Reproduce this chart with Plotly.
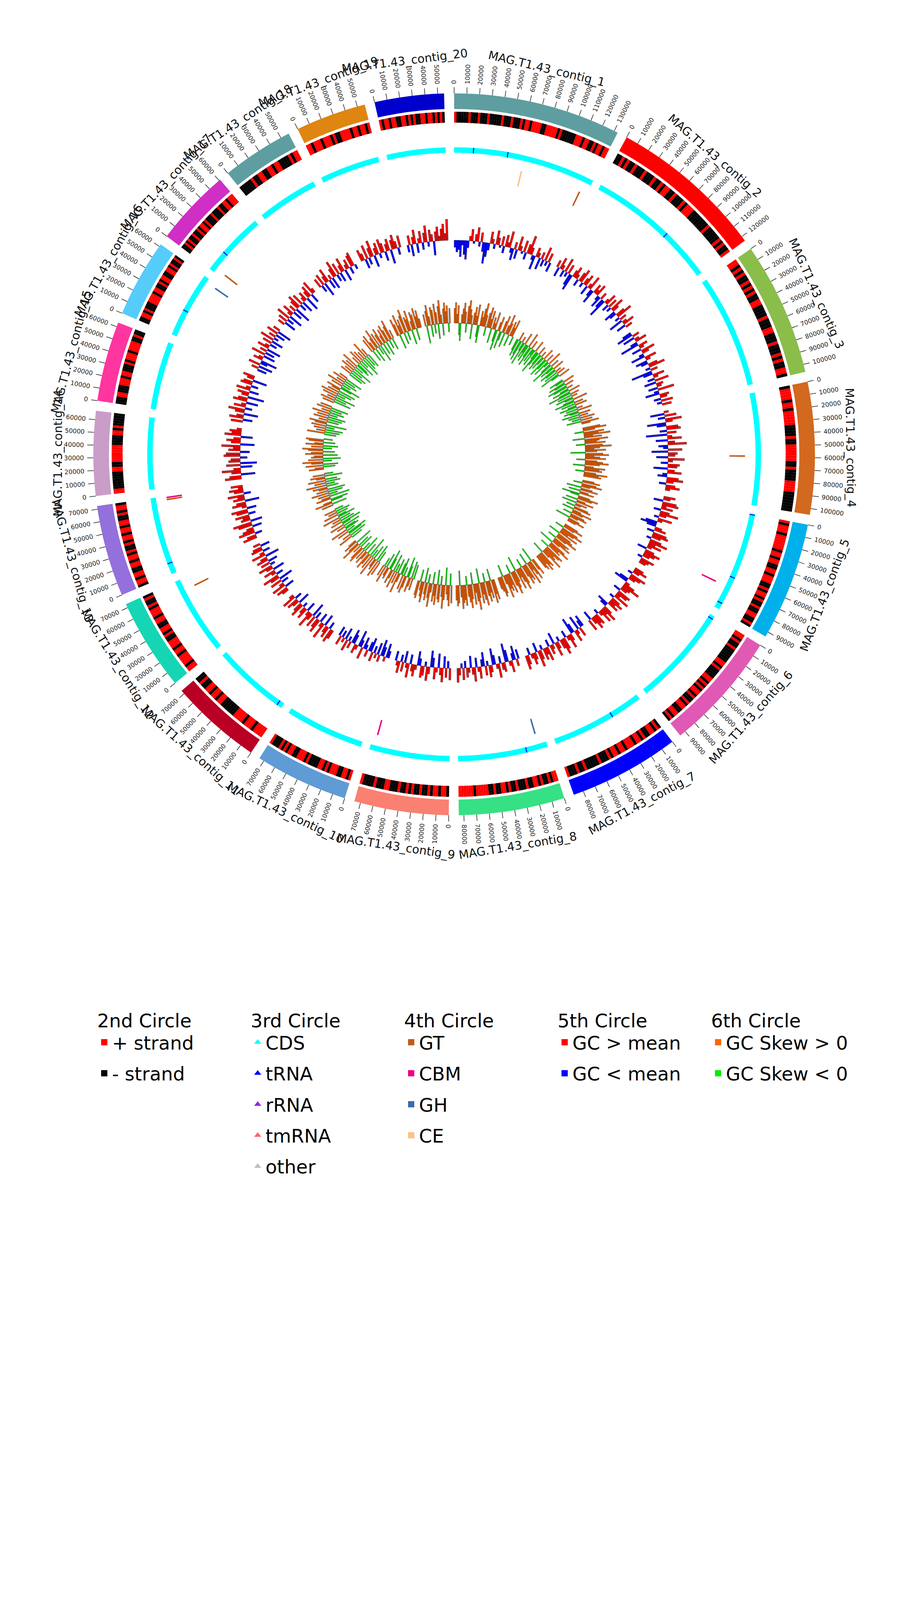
import math
import plotly.graph_objects as go

# ---- contigs (outer circle) ----
contig_names = [f"MAG.T1.43_contig_{i}" for i in range(1, 21)]
contig_lengths = [133000, 124000, 106000, 105000, 94000, 95000, 88000, 84000, 75000, 74000,
                  73000, 73000, 72500, 67000, 63500, 62000, 61000, 57000, 56000, 55000]
contig_colors = ["#5F9EA0", "#FF0000", "#8ABD4A", "#D2691E", "#00B0EB", "#E05AB5", "#0000FF",
                 "#36E085", "#FA8072", "#5F9BD5", "#B90024", "#15D5B5", "#9370DB", "#C99DC8",
                 "#FF35A0", "#55CCFA", "#CF2FC4", "#5F9EA0", "#DF8512", "#0000CC"]

# ---- 2nd circle: gene strand along each contig (R = +, K = -) ----
strand = [
    "RKKKKKRKKKRKKKRKKKKKRKKKRKKKRKRRKRRRRKKRRRRRKRKKKKKKRRRKRRKKRKRRKRR",
    "KKRKRKKRKKKRKKKRKKRKRRKKRKKKRKRRRKKKKKKKRKKKKKRKRKKR",
    "RRKRKRKKRKRKRKKRRKKKKRKKKRRKKKRKKKRKRKKRRK",
    "KRRRRKRRKRRRRRKKKKRKKRRRRRRKKRKKKKRRRRKKKKKKK",
    "RKRRRKRRRRRRKRRKRRKKRRKRRRKKRKRRKRKKRKKRRKKRK",
    "RRKRKKRKKKKKKRRKRKKKKRRKRKRKRRKRKKRKRRKKRRKRK",
    "KRKRRKKRKRRKRRRKRRKRRKRKKKRKKKKKRKKRKKKR",
    "RRKRKKRKRRKKRKKKRKKRKRRKKRKKRRRRRKRRRRRR",
    "KRRKRRKRKKRKKRKRKKRKKKRRKKKRKKKKR",
    "RKRRKKRRRKRKRRKKKKRKRRRKKRRKRKRKKKR",
    "RRRRKRRRKRRRRKKKKKKRRKRRKRRKKRKK",
    "RRKRRRRKRRKRRRKKRKRRKKRRKRRRKRKKRK",
    "KRRKRRKKRRKRRKRKKRKRRKRRKRRKKRKRRK",
    "RRKKKKKKKRRKKRRRRRRRKKKKRRKRKKKKK",
    "KKKRRKKKRRRKRRKKKRKRRRKRRRRKKRKK",
    "KKRRKRKKKRRRRKRRKKRKRRKKRRKRKKRK",
    "KKRKRKKRKKRKRRKRKKKRKKKRKKRRKRRR",
    "KKKKKRKKRRKKRRKRRKKKKRKRR",
    "RRKRRRKRRRKRKKRRRRKRRKRRKR",
    "RKRRKRRKKRRKRKRKKRRKRRKRKRK",
]

# ---- 3rd circle: tRNA positions (contig number, kb) on top of the CDS band ----
trna_contig = [1, 1, 2, 5, 5, 5, 6, 7, 8, 11, 13, 16, 17]
trna_kb = [18, 50, 76, 1, 62, 88, 3, 30, 20, 5, 10, 25, 20]

# ---- 4th circle: CAZy genes ----
cazy_types = ["GT", "CBM", "GH", "CE"]
cazy_colors = ["#BF5B17", "#F0027F", "#386CB0", "#FDC086"]
cazy_contig = [1, 1, 4, 5, 8, 9, 12, 13, 13, 16, 17]
cazy_kb = [66, 126, 59, 72, 8, 71, 62, 69, 71, 58, 4]
cazy_type = ["CE", "GT", "GT", "CBM", "GH", "CBM", "GT", "GT", "CBM", "GH", "GT"]

# ---- 5th circle: GC content minus mean (%), one value per window ----
gc_dev = [
    [-3, -5, -4, -7, -2, -6, -8, -3, 2, 5, -1, 3, 6, -2, 4, -4, -9, -6, -3, 5, 2, -2, 6, 3, -1, 4, -3, 5, 2, 7, -2, -5, 3, -4, 6, 2, -1, 5, -3, 4, 8, 3, -2, -6, 4, 2, -5, 3, -3, 6, -2, 4, -4],
    [3, -4, 5, 2, -3, 6, -2, 4, -5, -7, 3, 5, 2, -3, 4, 6, -2, 3, 5, -4, 2, 6, -3, -6, 4, 2, 5, -2, -5, 3, -4, -8, 2, 5, -3, 4, -2, 6, 3, -5, -3, 4, 7, -2, 3, -6, 2, 5, -4, 3],
    [-4, -7, 3, -5, 2, 5, -3, -8, 4, 2, -4, 6, 3, -2, -6, 5, 2, -5, -3, 4, 7, -2, 3, -9, -4, 5, 2, -3, 6, -5, 3, 2, -4, 7, -2, -6, 4, 3, -3, 5, -2, 4],
    [2, -6, 5, -3, 7, 3, -8, -4, 5, 6, -3, 4, -9, 2, 6, -5, 3, 8, -4, -2, 6, -7, 4, 3, -5, 7, 2, -3, 5, 4, -6, 3, 6, -2, -4, 5, 7, 3, -3, 4, 6, 2],
    [5, 3, -4, 6, 7, 2, 5, -3, 4, 8, 3, -2, 6, 2, -5, -7, -4, 3, 5, -3, 6, 7, 4, -2, 5, 8, 3, 6, 2, -4, 4, 7, 5, 3, -2, 6, 4, 3],
    [4, 6, 3, -2, 7, 5, 3, -4, -6, 2, 5, 8, 4, 3, -3, 6, 5, 2, 7, -2, 4, 6, 3, 5, -5, -3, 4, 7, 3, 6, 2, -2, 5, 4, 6, 3, -4, 5],
    [-5, -3, 4, -6, 2, 5, -4, -7, 3, 6, 2, -3, 5, 7, 4, -2, 3, 6, -5, 2, 4, -3, 6, 3, 5, -2, 4, 7, -4, 3, 5, 2, -3, 4, 6],
    [-4, 3, -6, -3, 5, 2, -5, -8, 4, 3, -3, 6, 2, -4, -7, 3, 5, -2, 4, -6, -3, 5, 2, -4, 6, 3, -5, 2, 4, -3, 5, -2, 3, 6],
    [5, -3, 4, -5, 6, 3, -6, 2, 5, -4, -7, 3, 6, -2, 4, 5, -3, -6, 2, 5, 3, -4, 6, 2, -5, 4, -3, 5, 2, -4],
    [-3, -6, 2, -4, -7, 3, -5, 2, -3, 4, -6, -4, 3, -2, -5, 5, -3, -7, 2, 4, -4, -6, 3, -2, 5, -5, 2, -3, 4, -4],
    [4, 6, -3, 5, 3, -5, 7, 2, -4, 6, 4, -3, 5, -6, 3, 7, 2, -4, 5, 3, -2, 6, 4, -5, 3, 5, -3, 6, 2],
    [3, 5, -4, 6, 2, -3, 5, -6, 4, 7, -3, 2, 5, -5, 3, 6, -2, 4, -4, 5, 3, -6, 6, 2, -3, 5, 4, -4, 3],
    [6, 4, -3, 7, 5, 3, -4, 6, 8, -5, 4, 3, 6, -3, 5, 7, -4, 2, 6, 4, -6, 5, 3, 7, -3, 4, 6, 2, 5],
    [7, 5, -6, 4, 8, 3, -5, 6, -7, 5, 4, -3, 7, 6, -4, 5, 3, 8, -6, 4, 6, 3, -5, 7, 4, 5, 2],
    [5, -4, 6, 3, -6, 4, 7, -3, 5, 2, -5, 6, 4, -7, 3, 5, -4, 6, 2, -3, 5, 4, -6, 3, 5],
    [-4, 3, -6, 5, -3, -7, 4, 2, -5, 6, -4, 3, -6, 5, 2, -3, 4, -5, 6, -2, 3, -4, 5, -6, 3],
    [3, -5, 4, -3, 6, -6, 2, 5, -4, 3, -7, 4, 6, -3, 5, -5, 2, 4, -6, 3, 5, -4, 6, 2],
    [4, -3, 5, -6, 3, 6, -4, 2, -5, 4, 7, -3, 5, -4, 3, 6, -5, 2, 4, -3, 5, 6, -2],
    [5, 3, -4, 6, -3, 4, 7, -5, 3, 5, -2, 6, 4, -4, 3, 5, -6, 4, 6, 3, -3, 5],
    [-3, 4, -5, 3, 6, -4, 2, 5, -3, 4, 7, -2, 5, 3, -6, 4, 6, 2, 5, 7, 3, 9],
]

# ---- 6th circle: GC skew x100, one value per window ----
gc_skew = [
    [5, 7, 3, 6, -4, -6, 3, 5, 7, 4, -3, 6, 8, 5, 3, -5, 4, 6, 3, 7, -4, -6, 5, 3, 6, 8, 4, -3, 5, 7, 3, 6, -5, 4, 2, 6, -4, -7, 3, 5, -6, -3, 4, 6, -5, 3, 7, 4, -4, 5, 3, 6, -3],
    [-4, -6, 3, -5, -7, 2, -3, -8, 4, -5, -3, -6, 5, -4, -7, 3, -5, -2, -6, 4, -3, -8, -5, 3, -4, -6, 2, -5, -3, 4, -7, -4, 3, -6, -2, 5, -4, -8, 3, -5, -3, 4, -6, -4, 2, -5, 3, -7, -3, 4],
    [-5, -3, 4, -6, -4, 3, -7, -5, 2, -3, -6, 4, -4, -8, 3, -5, 2, -6, -3, 5, -4, -7, 3, -5, 4, -3, -6, 2, -4, 5, -5, -3, 4, -6, 3, -4, 5, -3, 4, -5, 6, 3],
    [6, 8, 4, -3, 7, 5, 9, 3, 6, -4, 8, 5, 4, 7, -3, 6, 9, 5, 3, 7, 4, -5, 6, 8, 3, 5, 7, -3, 4, 6, 8, 5, -4, 3, 7, 5, 6, -3, 4, 8, 5, 6],
    [4, 6, -3, 5, 7, 3, -5, 4, 6, -4, 3, 5, -6, -3, 4, 7, 5, -4, 3, 6, -5, 4, 2, -3, 5, 6, -4, 3, 7, 4, -3, 5, 6, 3, -5, 4, 6, 3],
    [5, 7, 4, -3, 6, 8, 5, 3, 7, -4, 5, 6, 8, 4, -3, 6, 5, 7, 3, -5, 6, 8, 4, 5, -3, 7, 6, 4, 5, 8, 3, -4, 6, 5, 7, 4, 6, 5],
    [6, 4, -5, 7, 5, 3, 8, -4, 6, 5, 7, 4, -3, 6, 8, 5, 3, 7, -5, 4, 6, 8, 5, -3, 7, 4, 6, 5, 8, 3, -4, 6, 7, 5, 4],
    [7, 5, 8, -4, 6, 4, 7, 5, -3, 8, 6, 4, 7, -5, 5, 9, 6, 3, 7, -4, 5, 8, 6, 4, -3, 7, 5, 6, 8, 4, -5, 6, 7, 5],
    [6, -4, 7, 5, 3, -6, 5, 8, 4, -3, 6, 5, -5, 7, 4, 6, -4, 3, 8, 5, -3, 6, 4, -5, 7, 5, 3, -4, 6, 5],
    [-5, 4, -6, 3, 5, -4, -7, 4, 6, -3, 5, -6, -4, 3, 7, -5, 4, -3, 6, -6, 3, 5, -4, -7, 4, 3, -5, 6, -3, 4],
    [5, -4, 6, -6, 4, 3, -5, 7, -3, 5, -7, 4, 6, -4, 3, 5, -6, 4, -3, 6, 5, -5, 3, -4, 7, 4, -6, 5, 3],
    [-4, 5, -6, 3, -5, -7, 4, -3, 6, -5, -4, 3, -6, 5, -3, -7, 4, -5, 3, -4, 6, -6, -3, 5, -4, 3, -5, 4, -3],
    [4, -5, 6, 3, -4, -6, 5, 3, -7, 4, -3, 6, -5, 4, -6, 3, 5, -4, 7, -3, 4, -5, 6, -4, 3, 5, -6, 4, -3],
    [5, 3, -4, 6, -5, 4, 7, -3, 5, -6, 4, 3, -5, 6, 4, -4, 5, 7, -3, 4, -5, 6, 3, -4, 5, 6, -3],
    [-4, 6, -5, 3, -6, 4, -3, 5, -7, 4, 6, -4, 3, -5, 5, -6, 4, -3, 6, -5, 3, -4, 5, -6, 4],
    [4, -6, 5, -4, 3, -7, 5, -3, 6, -5, 4, -6, 3, 5, -4, -7, 4, -3, 6, -5, 3, -4, 5, -6, 3],
    [-5, 4, -6, 3, -4, 5, -7, 4, -3, 6, -5, -4, 3, -6, 5, -3, 4, -7, 3, -5, 6, -4, 3, -5],
    [5, -4, 6, 3, -5, 4, 7, -3, 5, -6, 4, 6, -4, 3, 5, -5, 6, 4, -3, 5, 7, -4, 3],
    [6, 4, -5, 7, 3, 5, -4, 6, 8, -3, 5, 4, 7, -5, 3, 6, 5, -4, 7, 4, 6, 3],
    [4, -6, 5, 7, 3, -4, 6, 5, -3, 7, 4, -5, 6, 8, 3, -4, 5, 7, 4, 6, -3, 5],
]

# ---- geometry (radius in px, polar radial axis = pixels) ----
CX = 1155
GAP = 1.6
R_MAX = 1155
R_CONTIG = (884, 924)
R_TICK = (924, 940)
R_STRAND = (849, 877)
R_CDS = (772, 786)
R_CAZY = (705, 745)
GC_BASE, GC_SCALE = 548, 6.0
SKEW_BASE, SKEW_SCALE = 336, 7.5
FONT = "DejaVu Sans"

dpb = (360 - GAP * len(contig_lengths)) / sum(contig_lengths)
starts = []
acc = 0.0
for L in contig_lengths:
    starts.append(acc)
    acc += L * dpb + GAP


def ang(ci, pos):
    return starts[ci] + pos * dpb


fig = go.Figure()

# outer contig ring
fig.add_trace(go.Barpolar(
    theta=[ang(i, L / 2) for i, L in enumerate(contig_lengths)],
    width=[L * dpb for L in contig_lengths],
    base=R_CONTIG[0], r=[R_CONTIG[1] - R_CONTIG[0]] * len(contig_lengths),
    marker=dict(color=contig_colors, line=dict(width=0)),
    showlegend=False, hoverinfo="skip",
))

# ticks every 10 kb
tick_r, tick_t = [], []
annotations = []
for i, L in enumerate(contig_lengths):
    for v in range(0, L + 1, 10000):
        t = ang(i, v)
        tick_r += [R_TICK[0], R_TICK[1], None]
        tick_t += [t, t, None]
        txt = str(v)
        rc = 948 + len(txt) * 10.2 / 2
        a = t - 90 if t < 180 else t - 270
        rad = math.radians(t)
        annotations.append(dict(
            x=(CX + rc * math.sin(rad)) / 2310, y=(3465 + rc * math.cos(rad)) / 4620,
            xref="paper", yref="paper", text=txt, showarrow=False, textangle=a,
            xanchor="center", yanchor="middle", font=dict(size=16, family=FONT, color="#222"),
        ))
    tm = ang(i, L / 2)
    a = tm if (tm <= 90 or tm >= 270) else tm - 180
    if a > 180:
        a -= 360
    rad = math.radians(tm)
    annotations.append(dict(
        x=(CX + 1015 * math.sin(rad)) / 2310, y=(3465 + 1015 * math.cos(rad)) / 4620,
        xref="paper", yref="paper", text=contig_names[i], showarrow=False, textangle=a,
        xanchor="center", yanchor="middle", font=dict(size=30, family=FONT, color="#111"),
    ))

fig.add_trace(go.Scatterpolar(
    r=tick_r, theta=tick_t, mode="lines", line=dict(color="#222", width=1.5),
    showlegend=False, hoverinfo="skip",
))

# 2nd circle: strand blocks
for code, color in [("R", "#FF0000"), ("K", "#000000")]:
    th, wd = [], []
    for i, s in enumerate(strand):
        b = contig_lengths[i] / len(s)
        for k, ch in enumerate(s):
            if ch == code:
                th.append(ang(i, (k + 0.5) * b))
                wd.append(b * dpb)
    fig.add_trace(go.Barpolar(
        theta=th, width=wd, base=R_STRAND[0], r=[R_STRAND[1] - R_STRAND[0]] * len(th),
        marker=dict(color=color, line=dict(width=0)), showlegend=False, hoverinfo="skip",
    ))

# 3rd circle: CDS band + tRNA marks
fig.add_trace(go.Barpolar(
    theta=[ang(i, L / 2) for i, L in enumerate(contig_lengths)],
    width=[L * dpb for L in contig_lengths],
    base=R_CDS[0], r=[R_CDS[1] - R_CDS[0]] * len(contig_lengths),
    marker=dict(color="#00FFFF", line=dict(width=0)), showlegend=False, hoverinfo="skip",
))
fig.add_trace(go.Barpolar(
    theta=[ang(c - 1, kb * 1000) for c, kb in zip(trna_contig, trna_kb)],
    width=[0.18] * len(trna_kb), base=R_CDS[0], r=[R_CDS[1] - R_CDS[0]] * len(trna_kb),
    marker=dict(color="#0000FF", line=dict(width=0)), showlegend=False, hoverinfo="skip",
))

# 4th circle: CAZy
for name, color in zip(cazy_types, cazy_colors):
    th = [ang(c - 1, kb * 1000) for c, kb, t in zip(cazy_contig, cazy_kb, cazy_type) if t == name]
    fig.add_trace(go.Barpolar(
        theta=th, width=[0.3] * len(th), base=R_CAZY[0], r=[R_CAZY[1] - R_CAZY[0]] * len(th),
        marker=dict(color=color, line=dict(width=0)), showlegend=False, hoverinfo="skip",
    ))


def signed_track(values, base, scale, pos_color, neg_color):
    for sign, color in [(1, pos_color), (-1, neg_color)]:
        th, wd, bs, rr = [], [], [], []
        for i, vals in enumerate(values):
            b = contig_lengths[i] / len(vals)
            for k, v in enumerate(vals):
                if v * sign > 0:
                    h = abs(v) * scale
                    th.append(ang(i, (k + 0.5) * b))
                    wd.append(b * dpb)
                    bs.append(base if sign > 0 else base - h)
                    rr.append(h)
        fig.add_trace(go.Barpolar(
            theta=th, width=wd, base=bs, r=rr,
            marker=dict(color=color, line=dict(color="#1a1a1a", width=0.7)),
            showlegend=False, hoverinfo="skip",
        ))


signed_track(gc_dev, GC_BASE, GC_SCALE, "#FF0000", "#0000FF")
signed_track(gc_skew, SKEW_BASE, SKEW_SCALE, "#FF6600", "#00EE00")

# legends (one per circle); the entries use a point outside the radial range, clipped away
legend_items = [
    ("legend", "2nd Circle", "square", [("+ strand", "#FF0000"), ("- strand", "#000000")]),
    ("legend2", "3rd Circle", "triangle-up", [("CDS", "#00FFFF"), ("tRNA", "#0000FF"), ("rRNA", "#A020F0"),
                                              ("tmRNA", "#FF6666"), ("other", "#C0C0C0")]),
    ("legend3", "4th Circle", "square", list(zip(cazy_types, cazy_colors))),
    ("legend4", "5th Circle", "square", [("GC > mean", "#FF0000"), ("GC < mean", "#0000FF")]),
    ("legend5", "6th Circle", "square", [("GC Skew > 0", "#FF6600"), ("GC Skew < 0", "#00EE00")]),
]
legend_x = [239, 632, 1025, 1418, 1811]
legend_layout = {}
for (key, title, symbol, items), lx in zip(legend_items, legend_x):
    for name, color in items:
        fig.add_trace(go.Scatterpolar(
            r=[R_MAX * 3], theta=[0], mode="markers", name=name, legend=key,
            legendgroup=key + name, cliponaxis=True, hoverinfo="skip",
            marker=dict(symbol=symbol, size=16, color=color),
        ))
    legend_layout[key] = dict(
        x=lx / 2310, y=1 - 2560 / 4620, xanchor="left", yanchor="top",
        title=dict(text=title, font=dict(size=48, family=FONT, color="black")),
        font=dict(size=48, family=FONT, color="black"),
        bgcolor="rgba(0,0,0,0)", tracegroupgap=14, itemsizing="trace",
        orientation="v", visible=True,
    )

fig.update_layout(
    width=2310, height=4620,
    margin=dict(l=0, r=0, t=0, b=0),
    paper_bgcolor="white", plot_bgcolor="white",
    font=dict(family=FONT),
    polar=dict(
        domain=dict(x=[0, 1], y=[0.5, 1]),
        bgcolor="white", barmode="overlay",
        radialaxis=dict(range=[0, R_MAX], visible=False, showgrid=False),
        angularaxis=dict(visible=False, rotation=90, direction="clockwise", showgrid=False),
    ),
    annotations=annotations,
    showlegend=True,
    **legend_layout,
)

fig.write_html("out.html")
